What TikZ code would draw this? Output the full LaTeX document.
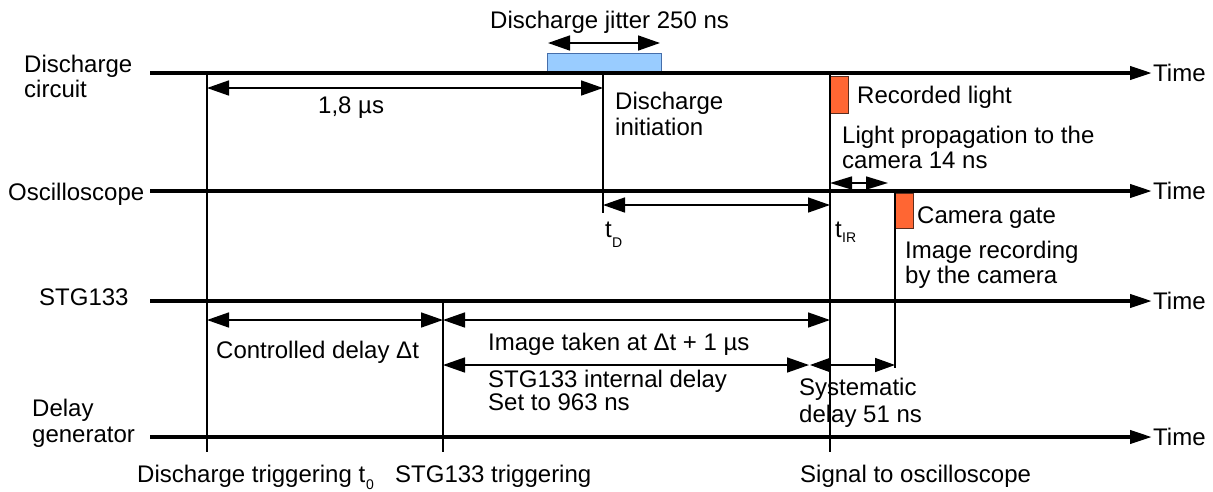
\documentclass[tikz,border=0pt]{standalone}
\usepackage{fontspec}
\setmainfont{Liberation Sans}
\usetikzlibrary{arrows.meta}
\definecolor{jitterfill}{RGB}{153,204,255}
\definecolor{jitterline}{RGB}{70,110,170}
\definecolor{pulsefill}{RGB}{255,102,51}
\definecolor{pulseline}{RGB}{90,45,30}
\begin{document}
\begin{tikzpicture}[x=1pt,y=-1pt,
  axis/.style={line width=4pt,-{Triangle[length=22pt,width=13pt]}},
  marker/.style={line width=1.3pt},
  span/.style={line width=1.6pt,{Triangle[length=22pt,width=15pt]}-{Triangle[length=22pt,width=15pt]}},
  txt/.style={inner sep=0pt,anchor=base west,font=\fontsize{24}{26}\selectfont},
  sub/.style={inner sep=0pt,anchor=base west,font=\fontsize{14}{16}\selectfont},
  pulse/.style={fill=pulsefill,draw=pulseline,line width=1pt}]

\useasboundingbox (0,0) rectangle (1213,491);

% time axes of the four instruments
\coordinate (dcS) at (150,73);   \coordinate (dcE) at (1152,73);
\coordinate (oscS) at (150,191); \coordinate (oscE) at (1152,191);
\coordinate (stgS) at (150,301); \coordinate (stgE) at (1152,301);
\coordinate (dgS) at (150,437);  \coordinate (dgE) at (1152,437);

% discharge jitter window (under the axis)
\draw[fill=jitterfill,draw=jitterline,line width=1pt] (547,53) rectangle (661,73);

\draw[axis] (dcS) -- (dcE);
\draw[axis] (oscS) -- (oscE);
\draw[axis] (stgS) -- (stgE);
\draw[axis] (dgS) -- (dgE);

\node[txt] (timeDC)  at (1153,81)  {Time};
\node[txt] (timeOSC) at (1153,199) {Time};
\node[txt] (timeSTG) at (1153,309) {Time};
\node[txt] (timeDG)  at (1153,445) {Time};

% axis labels
\node[txt] (lblDC1) at (24,72) {Discharge};
\node[txt] (lblDC2) at (24,97) {circuit};
\node[txt] (lblOSC) at (8,200) {Oscilloscope};
\node[txt] (lblSTG) at (39,305) {STG133};
\node[txt] (lblDG1) at (32,416) {Delay};
\node[txt] (lblDG2) at (32,442) {generator};

% light pulse and camera gate
\draw[pulse] (830,76) rectangle (848,113);
\draw[pulse] (895,193) rectangle (913,228);

% event markers
\coordinate (t0top) at (207,75);   \coordinate (t0bot) at (207,452);
\coordinate (tDtop) at (603,75);   \coordinate (tDbot) at (603,213);
\coordinate (tIRtop) at (830,75);  \coordinate (tIRbot) at (830,452);
\coordinate (camtop) at (895,193); \coordinate (cambot) at (895,368);
\coordinate (trgtop) at (443,303); \coordinate (trgbot) at (443,452);
\draw[marker] (t0top) -- (t0bot);
\draw[marker] (tDtop) -- (tDbot);
\draw[marker] (tIRtop) -- (tIRbot);
\draw[marker] (camtop) -- (cambot);
\draw[marker] (trgtop) -- (trgbot);

% intervals
\coordinate (jitA) at (548,43);  \coordinate (jitB) at (660,43);
\coordinate (initA) at (207,88); \coordinate (initB) at (603,88);
\coordinate (dA) at (603,205);   \coordinate (dB) at (830,205);
\coordinate (lpA) at (830,183);  \coordinate (lpB) at (888,183);
\coordinate (cdA) at (207,320);  \coordinate (cdB) at (443,320);
\coordinate (itA) at (443,320);  \coordinate (itB) at (830,320);
\coordinate (idA) at (443,365);  \coordinate (idB) at (809,365);
\coordinate (sdA) at (810,365);  \coordinate (sdB) at (895,365);
\draw[span] (jitA) -- (jitB);
\draw[span] (initA) -- (initB);
\draw[span] (dA) -- (dB);
\draw[span,{Triangle[length=22pt,width=13pt]}-{Triangle[length=22pt,width=13pt]}] (lpA) -- (lpB);
\draw[span] (cdA) -- (cdB);
\draw[span] (itA) -- (itB);
\draw[span] (idA) -- (idB);
\draw[span,{Triangle[length=20pt,width=14pt]}-{Triangle[length=20pt,width=14pt]}] (sdA) -- (sdB);

% annotations
\node[txt] (jitter) at (490,28) {Discharge jitter 250 ns};
\node[txt] (delay18) at (318,113) {1,8 µs};
\node[txt] (init1) at (615,109) {Discharge};
\node[txt] (init2) at (615,135) {initiation};
\node[txt] (light) at (857,103) {Recorded light};
\node[txt] (prop1) at (842,143) {Light propagation to the};
\node[txt] (prop2) at (842,168) {camera 14 ns};
\node[txt] (tD) at (605,237) {t};
\node[sub] (tDsub) at (612,247) {D};
\node[txt] (tIR) at (835,237) {t};
\node[sub] (tIRsub) at (842,242) {IR};
\node[txt] (gate) at (917,223) {Camera gate};
\node[txt] (rec1) at (905,258) {Image recording};
\node[txt] (rec2) at (905,283) {by the camera};
\node[txt] (ctrl) at (216,358) {Controlled delay Δt};
\node[txt] (taken) at (488,350) {Image taken at Δt + 1 µs};
\node[txt] (intd1) at (488,387) {STG133 internal delay};
\node[txt] (intd2) at (488,410) {Set to 963 ns};
\node[txt] (sys1) at (799,395) {Systematic};
\node[txt] (sys2) at (799,422) {delay 51 ns};
\node[txt] (trig0) at (137,482) {Discharge triggering t};
\node[sub] (trig0sub) at (366,489) {0};
\node[txt] (trigSTG) at (395,482) {STG133 triggering};
\node[txt] (sigosc) at (800,482) {Signal to oscilloscope};
\end{tikzpicture}
\end{document}
